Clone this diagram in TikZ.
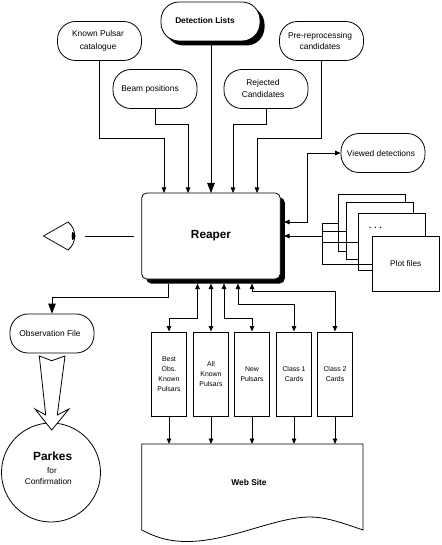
\documentclass[tikz,border=0pt]{standalone}
\usepackage{fontspec}
\setmainfont{Liberation Sans}
\usepackage{tikz}
\usetikzlibrary{calc}
\usetikzlibrary{arrows.meta,shadows}

\tikzset{
  pill/.style={draw,rounded corners=18pt,minimum width=84pt,minimum height=39pt,inner sep=0pt,
    font=\fontsize{8.4}{12.6}\selectfont,align=center},
  darkshadow/.style={drop shadow={shadow xshift=4.5pt,shadow yshift=-4.5pt,fill=black,opacity=1}},
  cardbox/.style={draw,line width=1pt,minimum width=35pt,minimum height=84pt,inner sep=0pt,
    font=\fontsize{6.9}{9.8}\selectfont,align=center},
  pagebox/.style={draw,fill=white,minimum width=67pt,minimum height=57pt,inner sep=0pt},
  bigtip/.style={>={Triangle[length=10pt,width=7.5pt]}},
}

\begin{document}
\begin{tikzpicture}[x=1pt,y=-1pt,>={Triangle[length=5.5pt,width=4.5pt]},line cap=butt,line join=miter,line width=0.8pt]
  \useasboundingbox (0,0) rectangle (441,545);

  % sources along the top
  \node[pill] (known) at (99.5,41) {};
  \node at (98,41) [font=\fontsize{8.4}{12.6}\selectfont,align=center] {Known Pulsar\\catalogue};
  \node[pill,fill=white,darkshadow,minimum width=99pt] (lists) at (210.5,21.5) {};
  \node at (205,21) [font=\bfseries\fontsize{8.3}{10}\selectfont] {Detection Lists};
  \node[pill] (beam) at (155,89) {};
  \node at (150,89) [font=\fontsize{8.4}{10}\selectfont] {Beam positions};
  \node[pill] (rejected) at (266,89) {};
  \node at (263,88.5) [font=\fontsize{8.4}{12.6}\selectfont,align=center] {Rejected\\Candidates};
  \node[pill] (prefile) at (321.5,41) {};
  \node at (320,41) [font=\fontsize{8.4}{11.6}\selectfont,align=center] {Pre-reprocessing\\candidates};
  \node[pill] (viewed) at (383,153) {};
  \node at (381,153) [font=\fontsize{8.4}{10}\selectfont] {Viewed detections};

  % reaper box
  \node[draw,fill=white,rounded corners=5pt,darkshadow,minimum width=138.5pt,minimum height=86pt,
    font=\bfseries\fontsize{11.8}{14}\selectfont] (reaper) at (211,236) {Reaper};

  % where the connectors meet the reaper box
  \foreach \name/\x in {topa/164,topb/188,topc/211,topd/233,tope/257}
    \coordinate (\name) at (\x,193);
  \foreach \name/\x in {lowa/197.5,lowb/211,lowc/224,lowd/238,lowe/252}
    \coordinate (\name) at (\x,283.5);
  \coordinate (sidea) at (284,222);
  \coordinate (sideb) at (284,236);
  \coordinate (obsout) at (168.5,283.5);

  % arrows in from the top
  \draw[->] (known.south) |- (topa |- 0,138) -- (topa);
  \draw[->] (beam.south) |- (topb |- 0,124) -- (topb);
  \draw[->,bigtip] (lists.south -| topc) -- (topc);
  \draw[->] (rejected.south) |- (topd |- 0,124) -- (topd);
  \draw[->] (prefile.south) |- (tope |- 0,138) -- (tope);
  \draw[<->] (sidea) -| (307,153) -- (viewed.west);

  % plot file stack
  \node[pagebox] (pagea) at (372,222.5) {};
  \node[pagebox] (pageb) at (380.3,231) {};
  \node[pagebox] (pagec) at (391.7,241.5) {};
  \node[pagebox,minimum height=55pt,font=\fontsize{8.2}{10}\selectfont] (paged) at (405.7,263.5) {Plot files};
  \node[font=\bfseries\fontsize{8}{10}\selectfont] (dots) at (375.5,228) {. . .};
  \coordinate (plotjoin) at (322,236);
  \draw[->] (plotjoin) -- (sideb);
  \draw (pagea.west |- 0,223) -| (plotjoin |- 0,264) -- (paged.west |- 0,264);
  \draw (plotjoin |- 0,231.5) -- (pageb.west |- 0,231.5);
  \draw (plotjoin |- 0,242) -- (pagec.west |- 0,242);

  % eye looking at the reaper box
  \draw (68,222) -- (43.5,236) -- (68,250) .. controls (77,243) and (77,229) .. (68,222);
  \fill (72.3,232) .. controls (76.5,233) and (76.5,239) .. (72.3,240) .. controls (71.5,238) and (71.5,234) .. (72.3,232);
  \coordinate (eyeout) at (85,236.5);
  \coordinate (eyein) at (134,236.5);
  \draw[line width=1pt] (eyeout) -- (eyein);

  % observation file and parkes
  \node[pill] (obsfile) at (52,333.5) {};
  \node at (50,333.5) [font=\fontsize{8.4}{10}\selectfont] {Observation File};
  \draw[->,bigtip] (obsout) |- (52,297) -- (obsfile.north -| 52,0);
  \node[draw,circle,minimum size=99pt,inner sep=0pt] (parkes) at (51,472.5) {};
  \node at (52.7,456) [font=\bfseries\fontsize{11.9}{14}\selectfont] {Parkes};
  \node at (52,470.7) [font=\fontsize{8.2}{9}\selectfont] {for};
  \node at (48.3,482) [font=\fontsize{8.3}{9}\selectfont] {Confirmation};
  \draw[fill=white] (39.3,356) -- (51.7,360.7) -- (65,356) -- (57.3,415) -- (69,409)
    -- (51.7,430) -- (35,409) -- (45.7,415) -- cycle;

  % cards
  \node[cardbox] (carda) at (169,374) {Best\\Obs.\\Known\\Pulsars};
  \node[cardbox] (cardb) at (211,374) {All\\Known\\Pulsars};
  \node[cardbox] (cardc) at (252,374) {New\\Pulsars};
  \node[cardbox] (cardd) at (294,374) {Class 1\\Cards};
  \node[cardbox] (carde) at (335,374) {Class 2\\Cards};

  \draw[<->] (lowa) |- (carda.north |- 0,318) -- (carda.north);
  \draw[<->] (lowb) -- (cardb.north);
  \draw[<->] (lowc) |- (cardc.north |- 0,318) -- (cardc.north);
  \draw[<->] (lowd) |- (cardd.north |- 0,304) -- (cardd.north);
  \draw[<->] (lowe) |- (carde.north |- 0,291) -- (carde.north);

  % web site
  \draw (141.7,444) -- (363,444) -- (363,530)
    .. controls (340,522) and (325,517) .. (310,517)
    .. controls (275,517) and (230,541.5) .. (187,541.5)
    .. controls (168,541.5) and (155,537) .. (141.7,530) -- cycle;
  \node[font=\bfseries\fontsize{8.4}{10}\selectfont] (website) at (249,482) {Web Site};
  \foreach \card in {carda,cardb,cardc,cardd,carde}
    \draw[->] (\card.south) -- (\card.south |- 0,444);
\end{tikzpicture}
\end{document}
